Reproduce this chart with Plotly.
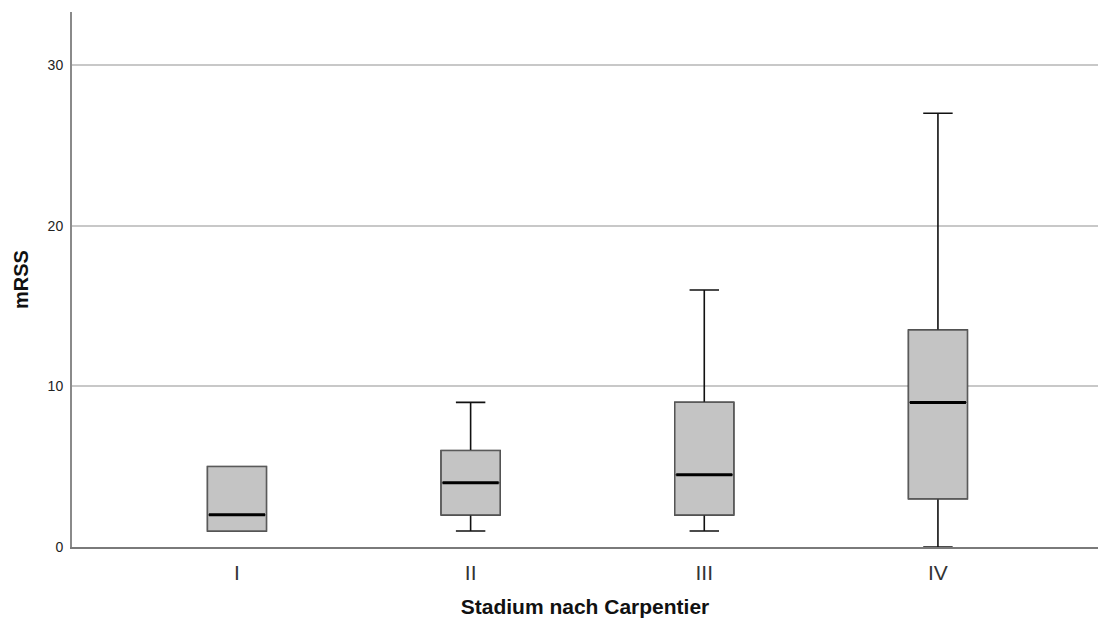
import plotly.graph_objects as go

# Five-number summaries of mRSS per Carpentier stage
stages = ["I", "II", "III", "IV"]
whisker_low = [1, 1, 1, 0]
q1 = [1, 2, 2, 3]
median = [2, 4, 4.5, 9]
q3 = [5, 6, 9, 13.5]
whisker_high = [5, 9, 16, 27]
y_ticks = [0, 10, 20, 30]

pos = list(range(len(stages)))
box_w = 0.252

fig = go.Figure()

# whiskers and caps (black)
fig.add_trace(go.Box(
    x=pos, q1=q1, median=median, q3=q3,
    lowerfence=whisker_low, upperfence=whisker_high,
    width=box_w, whiskerwidth=0.5,
    fillcolor="#c4c4c4", line=dict(color="#111111", width=1.6),
    boxpoints=False, hoverinfo="skip", showlegend=False,
))
# box body with grey outline drawn over the whiskers
fig.add_trace(go.Box(
    x=pos, q1=q1, median=median, q3=q3,
    lowerfence=q1, upperfence=q3,
    width=box_w, whiskerwidth=0,
    fillcolor="#c4c4c4", line=dict(color="#5a5a5a", width=1.4),
    boxpoints=False, hoverinfo="skip", showlegend=False,
))
# thick median bars
for p, m in zip(pos, median):
    fig.add_trace(go.Scatter(
        x=[p - box_w / 2 + 0.006, p + box_w / 2 - 0.006], y=[m, m],
        mode="lines", line=dict(color="#000000", width=3),
        hoverinfo="skip", showlegend=False,
    ))

fig.update_layout(
    width=1100, height=626,
    margin=dict(l=72, r=2, t=12, b=79),
    paper_bgcolor="white", plot_bgcolor="white",
    boxmode="overlay",
    font=dict(family="Liberation Sans, Arial, sans-serif", color="#222222"),
)
fig.update_xaxes(
    range=[-0.706, 3.685],
    tickmode="array", tickvals=pos, ticktext=stages,
    tickfont=dict(size=21, color="#333333"),
    ticks="outside", ticklen=6, tickcolor="rgba(0,0,0,0)",
    showgrid=False, zeroline=False,
    showline=True, linecolor="#7a7a7a", linewidth=2,
    title=dict(text="<b>Stadium nach Carpentier</b>", font=dict(size=21, color="#111111"), standoff=16),
)
fig.update_yaxes(
    range=[0, 33.3],
    tickmode="array", tickvals=y_ticks,
    tickfont=dict(size=14, color="#222222"),
    ticks="outside", ticklen=4, tickcolor="rgba(0,0,0,0)",
    showgrid=True, gridcolor="#c8c8c8", gridwidth=1.5,
    zeroline=False,
    showline=True, linecolor="#8a8a8a", linewidth=2,
    title=dict(text="<b>mRSS</b>", font=dict(size=20, color="#111111"), standoff=14),
)

fig.write_html("out.html")
